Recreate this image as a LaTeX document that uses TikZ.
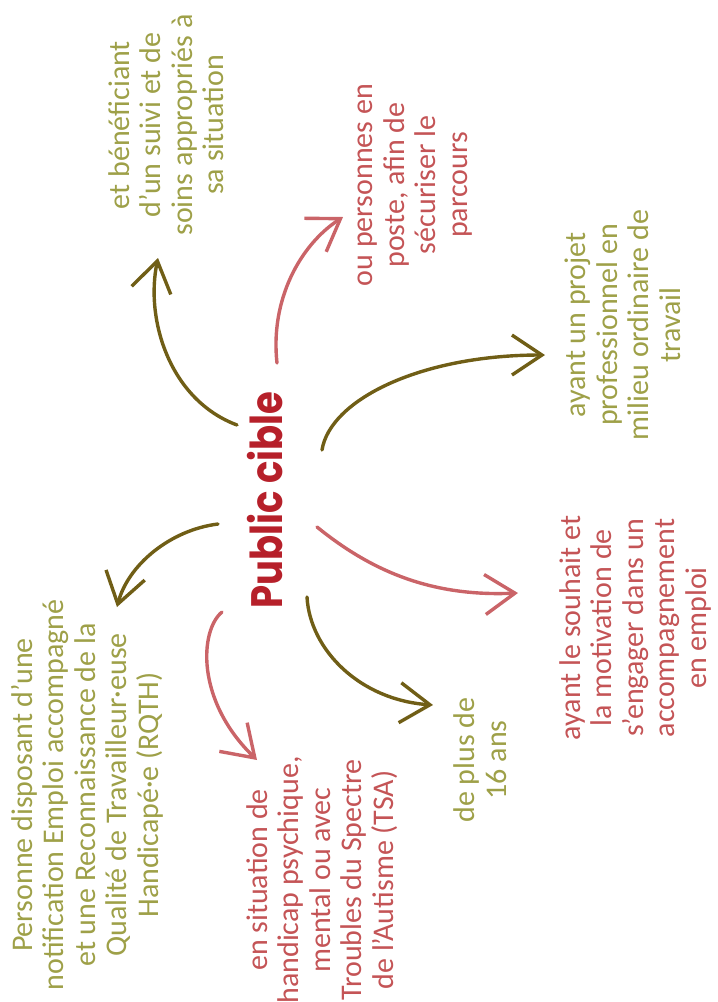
\documentclass[tikz,border=0pt]{standalone}
\usepackage{fontspec}
\setmainfont{Carlito}
\newfontfamily\titlefont{Poppins}
\usetikzlibrary{arrows.meta}
\definecolor{olivetext}{RGB}{158,160,72}
\definecolor{redtext}{RGB}{196,84,86}
\definecolor{olivearrow}{RGB}{112,94,22}
\definecolor{redarrow}{RGB}{202,100,104}
\definecolor{titlered}{RGB}{182,32,42}
\begin{document}
\begin{tikzpicture}[x=1pt,y=-1pt,
  lbl/.style={rotate=90, align=center, font=\fontsize{30}{31.5}\selectfont, inner sep=0pt},
  oltxt/.style={lbl, text=olivetext},
  rdtxt/.style={lbl, text=redtext},
  arr/.style={line width=3.4pt, line cap=round, -{Straight Barb[length=30pt,width=40pt]}},
  olarr/.style={arr, draw=olivearrow},
  rdarr/.style={arr, draw=redarrow}]
\useasboundingbox (0,0) rectangle (718,1002);

\node[rotate=90, text=titlered, font=\titlefont\bfseries\fontsize{44}{46}\selectfont, inner sep=0pt] (pc) at (265,500) {\scalebox{0.84}[1]{Public cible}};

\node[oltxt] (t1) at (87,795) {Personne disposant d’une\\notification Emploi accompagné\\et une Reconnaissance de la\\Qualité de Travailleur·euse\\Handicapé·e (RQTH)};
\node[rdtxt] (t2) at (322,880) {en situation de\\handicap psychique,\\mental ou avec\\Troubles du Spectre\\de l’Autisme (TSA)};
\node[oltxt] (t3) at (480,760) {de plus de\\16 ans};
\node[rdtxt] (t4) at (635,628) {ayant le souhait et\\la motivation de\\s’engager dans un\\accompagnement\\en emploi};
\node[oltxt] (t5) at (623,325) {ayant un projet\\professionnel en\\milieu ordinaire de\\travail};
\node[rdtxt] (t6) at (415,185) {ou personnes en\\poste, afin de\\sécuriser le\\parcours};
\node[oltxt] (t7) at (166,125) {et bénéficiant\\d’un suivi et de\\soins appropriés à\\sa situation};

\coordinate (s1) at (218,524); \coordinate (e1) at (117,607);
\coordinate (s2) at (222,612); \coordinate (e2) at (257,760);
\coordinate (s3) at (307,597); \coordinate (e3) at (433,705);
\coordinate (s4) at (317,527); \coordinate (e4) at (518,593);
\coordinate (s5) at (322,450); \coordinate (e5) at (545,355);
\coordinate (s6) at (277,363); \coordinate (e6) at (343,217);
\coordinate (s7) at (237,425); \coordinate (e7) at (158,258);

\draw[olarr] (s1) .. controls (170,530) and (128,565) .. (e1);
\draw[rdarr] (s2) .. controls (200,630) and (195,700) .. (e2);
\draw[olarr] (s3) .. controls (310,650) and (360,700) .. (e3);
\draw[rdarr] (s4) .. controls (370,570) and (430,597) .. (e4);
\draw[olarr] (s5) .. controls (330,400) and (420,355) .. (e5);
\draw[rdarr] (s6) .. controls (270,300) and (300,245) .. (e6);
\draw[olarr] (s7) .. controls (170,400) and (145,320) .. (e7);
\end{tikzpicture}
\end{document}
